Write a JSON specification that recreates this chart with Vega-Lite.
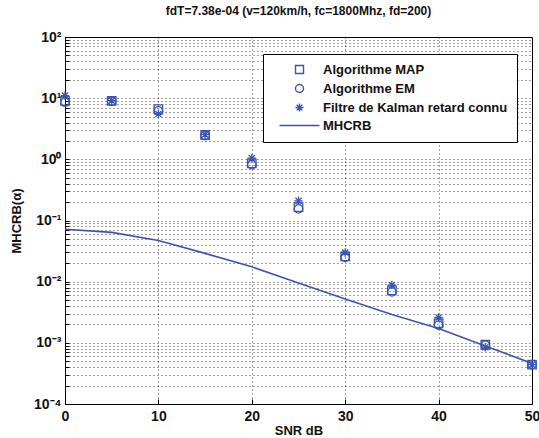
{
  "$schema": "https://vega.github.io/schema/vega-lite/v6.json",
  "width": 467,
  "height": 367,
  "autosize": {"type": "none"},
  "padding": {"left": 65, "top": 37, "right": 7, "bottom": 34},
  "background": "white",
  "title": {
    "text": "fdT=7.38e-04 (v=120km/h, fc=1800Mhz, fd=200)",
    "font": "Liberation Sans",
    "fontSize": 12,
    "fontWeight": "bold",
    "color": "#111",
    "offset": 12,
    "anchor": "middle"
  },
  "config": {
    "view": {"stroke": "black", "strokeWidth": 1},
    "axis": {
      "labelFont": "Liberation Sans",
      "labelFontWeight": "bold",
      "labelFontSize": 14,
      "labelColor": "#111",
      "titleFont": "Liberation Sans",
      "titleFontWeight": "bold",
      "titleFontSize": 13,
      "titleColor": "#111",
      "domainColor": "black",
      "tickColor": "black",
      "gridColor": "black",
      "gridDash": [1, 3],
      "gridOpacity": 0.75,
      "gridWidth": 1
    },
    "legend": {
      "labelFont": "Liberation Sans",
      "labelFontWeight": "bold",
      "labelFontSize": 13,
      "labelColor": "#111",
      "labelLimit": 400
    }
  },
  "data": {
    "values": [
      {"s": "Algorithme MAP", "snr": 0, "v": 9.0},
      {"s": "Algorithme MAP", "snr": 5, "v": 9.0},
      {"s": "Algorithme MAP", "snr": 10, "v": 6.6},
      {"s": "Algorithme MAP", "snr": 15, "v": 2.5},
      {"s": "Algorithme MAP", "snr": 20, "v": 0.86},
      {"s": "Algorithme MAP", "snr": 25, "v": 0.165},
      {"s": "Algorithme MAP", "snr": 30, "v": 0.026},
      {"s": "Algorithme MAP", "snr": 35, "v": 0.0072},
      {"s": "Algorithme MAP", "snr": 40, "v": 0.0021},
      {"s": "Algorithme MAP", "snr": 45, "v": 0.00093},
      {"s": "Algorithme MAP", "snr": 50, "v": 0.00044},
      {"s": "Algorithme EM", "snr": 0, "v": 8.6},
      {"s": "Algorithme EM", "snr": 5, "v": 8.9},
      {"s": "Algorithme EM", "snr": 10, "v": 6.2},
      {"s": "Algorithme EM", "snr": 15, "v": 2.45},
      {"s": "Algorithme EM", "snr": 20, "v": 0.82},
      {"s": "Algorithme EM", "snr": 25, "v": 0.155},
      {"s": "Algorithme EM", "snr": 30, "v": 0.025},
      {"s": "Algorithme EM", "snr": 35, "v": 0.0068},
      {"s": "Algorithme EM", "snr": 40, "v": 0.00195},
      {"s": "Algorithme EM", "snr": 45, "v": 0.00092},
      {"s": "Algorithme EM", "snr": 50, "v": 0.00044},
      {"s": "Filtre de Kalman retard connu", "snr": 0, "v": 11.0},
      {"s": "Filtre de Kalman retard connu", "snr": 5, "v": 9.1},
      {"s": "Filtre de Kalman retard connu", "snr": 10, "v": 5.5},
      {"s": "Filtre de Kalman retard connu", "snr": 15, "v": 2.55},
      {"s": "Filtre de Kalman retard connu", "snr": 20, "v": 1.05},
      {"s": "Filtre de Kalman retard connu", "snr": 25, "v": 0.21},
      {"s": "Filtre de Kalman retard connu", "snr": 30, "v": 0.03},
      {"s": "Filtre de Kalman retard connu", "snr": 35, "v": 0.0088},
      {"s": "Filtre de Kalman retard connu", "snr": 40, "v": 0.0026},
      {"s": "Filtre de Kalman retard connu", "snr": 45, "v": 0.00085},
      {"s": "Filtre de Kalman retard connu", "snr": 50, "v": 0.00044},
      {"s": "MHCRB", "snr": 0, "v": 0.072},
      {"s": "MHCRB", "snr": 5, "v": 0.064},
      {"s": "MHCRB", "snr": 10, "v": 0.047},
      {"s": "MHCRB", "snr": 15, "v": 0.029},
      {"s": "MHCRB", "snr": 20, "v": 0.0175},
      {"s": "MHCRB", "snr": 25, "v": 0.0095},
      {"s": "MHCRB", "snr": 30, "v": 0.0052},
      {"s": "MHCRB", "snr": 35, "v": 0.0029},
      {"s": "MHCRB", "snr": 40, "v": 0.00172},
      {"s": "MHCRB", "snr": 45, "v": 0.00089},
      {"s": "MHCRB", "snr": 50, "v": 0.00046}
    ]
  },
  "encoding": {
    "x": {
      "field": "snr",
      "type": "quantitative",
      "scale": {"domain": [0, 50], "nice": false},
      "axis": {
        "title": "SNR dB",
        "values": [0, 10, 20, 30, 40, 50],
        "tickSize": -5,
        "labelPadding": 10,
        "titlePadding": 1,
        "labelFlush": false
      }
    },
    "y": {
      "field": "v",
      "type": "quantitative",
      "scale": {"type": "log", "domain": [0.0001, 100], "nice": false},
      "axis": {
        "title": "MHCRB(α)",
        "titlePadding": 10,
        "tickSize": -4,
        "labelPadding": 8,
        "values": [0.0001, 0.0002, 0.0003, 0.0004, 0.0005, 0.0006, 0.0007, 0.0008, 0.0009,
                   0.001, 0.002, 0.003, 0.004, 0.005, 0.006, 0.007, 0.008, 0.009,
                   0.01, 0.02, 0.03, 0.04, 0.05, 0.06, 0.07, 0.08, 0.09,
                   0.1, 0.2, 0.3, 0.4, 0.5, 0.6, 0.7, 0.8, 0.9,
                   1, 2, 3, 4, 5, 6, 7, 8, 9,
                   10, 20, 30, 40, 50, 60, 70, 80, 90, 100],
        "labelExpr": "abs(log(datum.value)/LN10 - round(log(datum.value)/LN10)) > 0.001 ? '' : (round(log(datum.value)/LN10) == 2 ? '10²' : round(log(datum.value)/LN10) == 1 ? '10¹' : round(log(datum.value)/LN10) == 0 ? '10⁰' : round(log(datum.value)/LN10) == -1 ? '10⁻¹' : round(log(datum.value)/LN10) == -2 ? '10⁻²' : round(log(datum.value)/LN10) == -3 ? '10⁻³' : '10⁻⁴')"
      }
    }
  },
  "layer": [
    {
      "transform": [{"filter": "datum.s == 'MHCRB'"}],
      "mark": {"type": "line", "color": "#3a55b0", "strokeWidth": 1.6, "clip": true}
    },
    {
      "transform": [{"filter": "datum.s != 'MHCRB'"}],
      "mark": {"type": "point", "filled": false, "color": "#3a55b0", "strokeWidth": 1.3, "opacity": 1, "size": 72},
      "encoding": {
        "shape": {
          "field": "s",
          "type": "nominal",
          "scale": {
            "domain": ["Algorithme MAP", "Algorithme EM", "Filtre de Kalman retard connu", "MHCRB"],
            "range": ["square", "circle", "M-1,0L1,0M0,-1L0,1M-0.72,-0.72L0.72,0.72M-0.72,0.72L0.72,-0.72", "M-5,0L5,0"]
          },
          "legend": {
            "title": null,
            "orient": "none",
            "legendX": 198,
            "legendY": 17,
            "strokeColor": "black",
            "fillColor": "white",
            "padding": 9,
            "symbolSize": 64,
            "symbolOffset": 21,
            "labelOffset": 17,
            "rowPadding": 4,
            "symbolStrokeColor": "#3a55b0",
            "symbolStrokeWidth": 1.4
          }
        }
      }
    }
  ]
}
